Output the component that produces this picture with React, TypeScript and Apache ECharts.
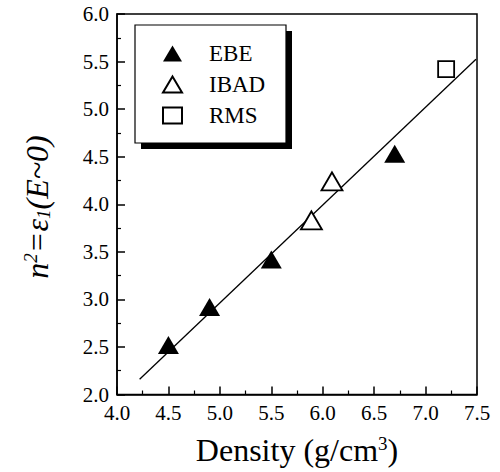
import React, { useEffect, useRef } from "react";
import * as echarts from "echarts";

const ebe: number[][] = [
  [4.5, 2.52],
  [4.9, 2.92],
  [5.5, 3.42],
  [6.7, 4.53],
];
const ibad: number[][] = [
  [5.89, 3.83],
  [6.09, 4.24],
];
const rms: number[][] = [[7.2, 5.42]];
const fit: number[][] = [
  [4.22, 2.16],
  [7.49, 5.525],
];
const seriesNames = ["EBE", "IBAD", "RMS"];

const FONT = "'Liberation Serif', 'Times New Roman', serif";

export default function App() {
  const ref = useRef<HTMLDivElement>(null);
  useEffect(() => {
    if (!ref.current) return;
    const chart = echarts.init(ref.current, undefined, { renderer: "svg" });
    chart.setOption({
      animation: false,
      backgroundColor: "#ffffff",
      grid: {
        left: 117,
        right: 23,
        top: 14,
        bottom: 77.5,
        show: true,
        borderColor: "#000",
        borderWidth: 1.5,
        backgroundColor: "transparent",
      },
      xAxis: {
        type: "value",
        min: 4,
        max: 7.5,
        interval: 0.5,
        axisLine: { show: true, lineStyle: { color: "#000", width: 1.5 } },
        axisTick: { show: true, inside: true, length: 8, lineStyle: { color: "#000", width: 1.5 } },
        minorTick: { show: true, splitNumber: 2, length: 4, lineStyle: { color: "#000", width: 1.2 } },
        splitLine: { show: false },
        axisLabel: {
          color: "#000",
          fontFamily: FONT,
          fontSize: 21,
          margin: 8,
          formatter: (v: number) => v.toFixed(1),
        },
      },
      yAxis: {
        type: "value",
        min: 2,
        max: 6,
        interval: 0.5,
        axisLine: { show: true, lineStyle: { color: "#000", width: 1.5 } },
        axisTick: { show: true, inside: true, length: 8, lineStyle: { color: "#000", width: 1.5 } },
        minorTick: { show: true, splitNumber: 2, length: 4, lineStyle: { color: "#000", width: 1.2 } },
        splitLine: { show: false },
        axisLabel: {
          color: "#000",
          fontFamily: FONT,
          fontSize: 21,
          margin: 8,
          formatter: (v: number) => v.toFixed(1),
        },
      },
      legend: {
        orient: "vertical",
        left: 162,
        top: 42,
        padding: 0,
        z: 10,
        itemWidth: 19,
        itemHeight: 16,
        itemGap: 8,
        data: seriesNames,
        formatter: "{t|{name}}",
        textStyle: {
          color: "#000",
          fontFamily: FONT,
          fontSize: 23,
          rich: {
            t: {
              color: "#000",
              fontFamily: FONT,
              fontSize: 23,
              padding: [0, 0, 0, 22],
            },
          },
        },
      },
      graphic: [
        {
          type: "rect",
          z: 1,
          shape: { x: 141, y: 31, width: 151, height: 118 },
          style: { fill: "#000" },
        },
        {
          type: "rect",
          z: 2,
          shape: { x: 135, y: 25, width: 151, height: 118 },
          style: { fill: "#fff", stroke: "#000", lineWidth: 1.2 },
        },
        {
          type: "text",
          z: 5,
          x: 297,
          y: 450,
          style: {
            text: "{a|Density (g/cm}{s|3}{a|)}",
            align: "center",
            verticalAlign: "middle",
            fill: "#000",
            rich: {
              a: { fontFamily: FONT, fontSize: 32, fill: "#000" },
              s: { fontFamily: FONT, fontSize: 19, fill: "#000", verticalAlign: "top" },
            },
          },
        },
        {
          type: "text",
          z: 5,
          x: 37,
          y: 207,
          rotation: Math.PI / 2,
          style: {
            text: "{a|n}{s|2}{a|=ε}{b|1}{a|(E~0)}",
            align: "center",
            verticalAlign: "middle",
            fill: "#000",
            rich: {
              a: { fontFamily: FONT, fontSize: 32, fontStyle: "italic", fill: "#000" },
              s: { fontFamily: FONT, fontSize: 19, fontStyle: "italic", fill: "#000", verticalAlign: "top" },
              b: { fontFamily: FONT, fontSize: 19, fontStyle: "italic", fill: "#000", verticalAlign: "bottom" },
            },
          },
        },
      ],
      series: [
        {
          name: "EBE",
          type: "scatter",
          data: ebe,
          symbol: "triangle",
          symbolSize: [21, 18],
          itemStyle: { color: "#000", opacity: 1 },
          z: 4,
        },
        {
          name: "IBAD",
          type: "scatter",
          data: ibad,
          symbol: "triangle",
          symbolSize: [21, 18],
          itemStyle: { color: "#fff", borderColor: "#000", borderWidth: 1.8, opacity: 1 },
          z: 4,
        },
        {
          name: "RMS",
          type: "scatter",
          data: rms,
          symbol: "rect",
          symbolSize: 16,
          itemStyle: { color: "#fff", borderColor: "#000", borderWidth: 1.8, opacity: 1 },
          z: 4,
        },
        {
          name: "fit",
          type: "line",
          data: fit,
          showSymbol: false,
          symbol: "none",
          lineStyle: { color: "#000", width: 1.3 },
          z: 3,
        },
      ],
    });
    return () => chart.dispose();
  }, []);
  return (
    <div
      ref={ref}
      style={{ position: "fixed", left: 0, top: 0, width: 500, height: 472 }}
    />
  );
}
